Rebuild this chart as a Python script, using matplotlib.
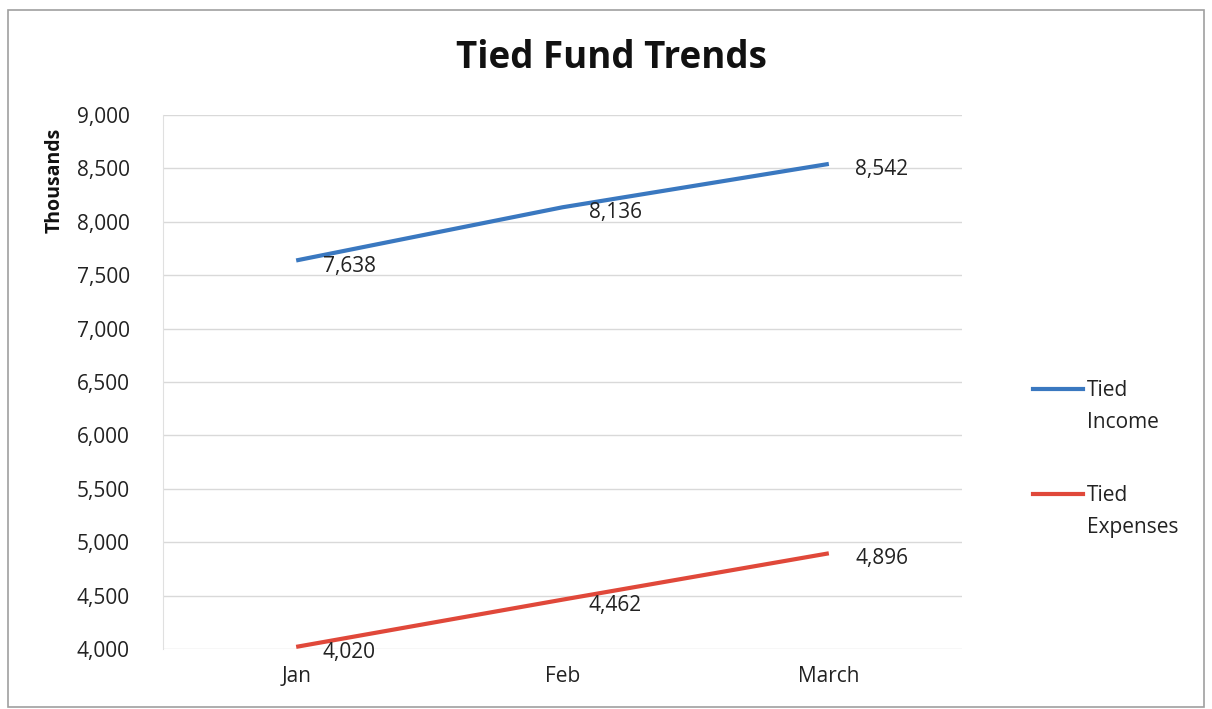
import matplotlib
matplotlib.use("Agg")
import matplotlib.pyplot as plt
from matplotlib.patches import Rectangle
from matplotlib.lines import Line2D

months = ["Jan", "Feb", "March"]
tied_income = [7638, 8136, 8542]
tied_expenses = [4020, 4462, 4896]
yticks = list(range(4000, 9001, 500))
series_labels = ["Tied\nIncome", "Tied\nExpenses"]
series_colors = ["#3a78c0", "#e0483a"]

plt.rcParams['font.family'] = ['Open Sans', 'DejaVu Sans']
FS = 15

fig = plt.figure(figsize=(12.12, 7.09), dpi=100)
fig.patch.set_facecolor("white")
fig.add_artist(Rectangle((8/1212, 2/709), 1196/1212, 697/709, transform=fig.transFigure,
                         fill=False, edgecolor="#a0a0a0", linewidth=1.2))

ax = fig.add_axes([163/1212, 60/709, 799/1212, 534/709])
x = list(range(len(months)))
for vals, lab, col in zip([tied_income, tied_expenses], series_labels, series_colors):
    ax.plot(x, vals, color=col, linewidth=3, label=lab, solid_capstyle="butt")
    for xi, v in zip(x, vals):
        ax.annotate(f"{v:,}", (xi, v), xytext=(19, -4), textcoords="offset points",
                    ha="left", va="center", fontsize=FS, color="#222222")

ax.set_xlim(-0.5, 2.5)
ax.set_ylim(4000, 9000)
ax.set_yticks(yticks)
ax.set_yticklabels([f"{t:,}" for t in yticks], fontsize=FS, color="#222222")
ax.set_xticks(x)
ax.set_xticklabels(months, fontsize=FS, color="#222222")
ax.tick_params(axis="x", length=0, pad=12)
ax.tick_params(axis="y", length=0, pad=24)
ax.yaxis.grid(True, color="#d9d9d9", linewidth=1)
ax.set_axisbelow(True)
for s in ["top", "right", "bottom"]:
    ax.spines[s].set_visible(False)
ax.spines["left"].set_color("#e0e0e0")

fig.text(55/1212, 1 - 180/709, "Thousands", rotation=90, ha="center", va="center",
         fontsize=FS - 1, fontweight="bold", color="#111111")

fig.text(611/1212, 1 - 58/709, "Tied Fund Trends", ha="center", va="center",
         fontsize=26.5, fontweight="bold", color="#111111")

# legend
for lab, col, ytop in zip(series_labels, series_colors, [389, 494]):
    fig.add_artist(Line2D([1033/1212, 1083/1212], [1 - ytop/709, 1 - ytop/709],
                          transform=fig.transFigure, color=col, linewidth=3))
    fig.text(1087/1212, 1 - (ytop - 9)/709, lab, ha="left", va="top", fontsize=FS,
             color="#222222", linespacing=1.7)

fig.savefig("out.png", dpi=100)
